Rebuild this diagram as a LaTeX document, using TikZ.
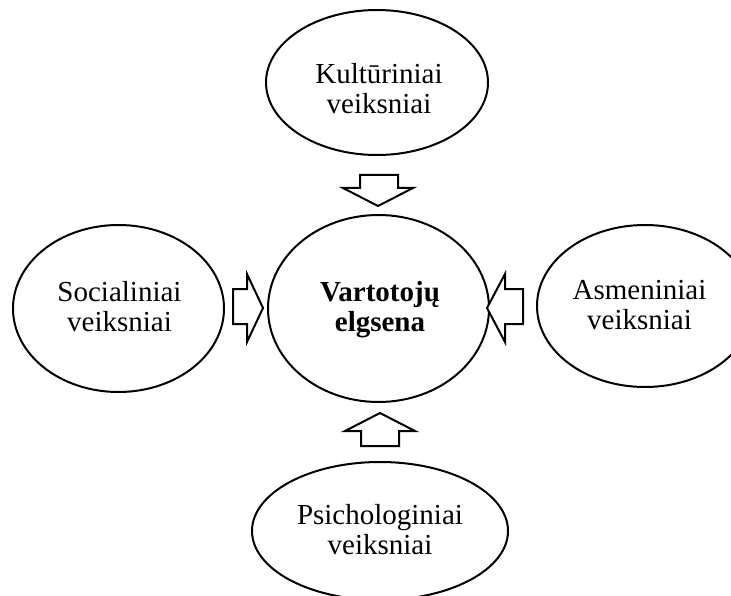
\documentclass[tikz,border=0pt]{standalone}
\usepackage{fontspec}
\setmainfont{Liberation Serif}
\usetikzlibrary{shapes.geometric}
\begin{document}
\begin{tikzpicture}[x=1pt,y=-1pt,
  ell/.style={draw=black,line width=2pt,ellipse,inner sep=0pt},
  lbl/.style={align=center,inner sep=0pt,font=\fontsize{29}{30}\selectfont},
  barrow/.style={draw=black,line width=2pt,line join=miter,fill=white}]
\useasboundingbox (0,0) rectangle (731,596);
\clip (0,0) rectangle (731,596);
% ellipses
\node[ell,minimum width=222pt,minimum height=145pt] (kult) at (377,82.5) {};
\node[ell,minimum width=211pt,minimum height=167pt] (soc) at (118.5,308.5) {};
\node[ell,minimum width=221pt,minimum height=187pt] (vart) at (378.5,308.5) {};
\node[ell,minimum width=216pt,minimum height=162pt] (asm) at (645,306) {};
\node[ell,minimum width=256pt,minimum height=138pt] (psi) at (380,531) {};
% labels
\node[lbl] (kultt) at (379,89) {Kultūriniai\\veiksniai};
\node[lbl] (soct) at (119.5,307) {Socialiniai\\veiksniai};
\node[lbl,font=\fontsize{29}{30}\selectfont\bfseries] (vartt) at (380,310) {Vartotojų\\elgsena};
\node[lbl] (asmt) at (639.5,305.5) {Asmeniniai\\veiksniai};
\node[lbl] (psit) at (380,530) {Psichologiniai\\veiksniai};
% block arrows
\draw[barrow] (360,175) -- (398,175) -- (398,188) -- (413,188) -- (378,206) -- (343,188) -- (360,188) -- cycle;
\draw[barrow] (233,289) -- (247,289) -- (247,274) -- (263,308) -- (247,342) -- (247,324) -- (233,324) -- cycle;
\draw[barrow] (523,289) -- (505,289) -- (505,274) -- (487,308) -- (505,342) -- (505,324) -- (523,324) -- cycle;
\draw[barrow] (361,446) -- (399,446) -- (399,431) -- (415,431) -- (380,413) -- (345,431) -- (361,431) -- cycle;
\end{tikzpicture}
\end{document}
